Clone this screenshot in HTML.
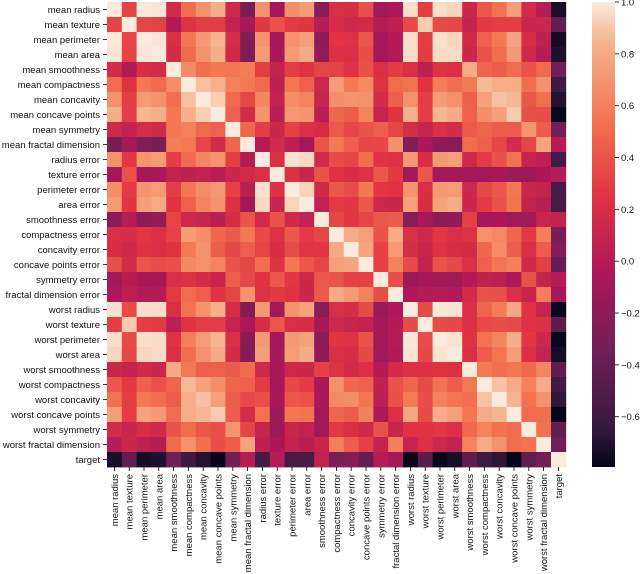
<!DOCTYPE html>
<html><head><meta charset="utf-8"><style>
html,body{margin:0;padding:0;background:#fff;width:640px;height:574px;overflow:hidden}
svg{display:block;font-family:"Liberation Sans","DejaVu Sans",sans-serif}
</style></head><body>
<svg id="chart" width="640" height="574" viewBox="0 0 640 574" xmlns="http://www.w3.org/2000/svg">
<defs><linearGradient id="cbgrad" x1="0" y1="1" x2="0" y2="0">
<stop offset="0" stop-color="#03051a"/><stop offset="0.083" stop-color="#35193e"/><stop offset="0.25" stop-color="#701f57"/><stop offset="0.417" stop-color="#ad1759"/><stop offset="0.583" stop-color="#e13342"/><stop offset="0.75" stop-color="#f37651"/><stop offset="0.917" stop-color="#f6b48f"/><stop offset="1" stop-color="#faebdd"/>
</linearGradient></defs>
<g id="cells"></g>
<g id="ylabels"></g>
<g id="xlabels"></g>
<rect x="592" y="2" width="23" height="465" fill="url(#cbgrad)"/>
<g id="cbticks"></g>
</svg>
<script>
const labels=["mean radius","mean texture","mean perimeter","mean area","mean smoothness","mean compactness","mean concavity","mean concave points","mean symmetry","mean fractal dimension","radius error","texture error","perimeter error","area error","smoothness error","compactness error","concavity error","concave points error","symmetry error","fractal dimension error","worst radius","worst texture","worst perimeter","worst area","worst smoothness","worst compactness","worst concavity","worst concave points","worst symmetry","worst fractal dimension","target"];
const lower=[[],
[.324],
[.998,.330],
[.987,.321,.987],
[.171,-.023,.207,.177],
[.506,.237,.557,.499,.659],
[.677,.302,.716,.686,.522,.883],
[.823,.293,.851,.823,.554,.831,.921],
[.148,.071,.183,.151,.558,.603,.501,.462],
[-.312,-.076,-.261,-.283,.585,.565,.337,.167,.480],
[.679,.276,.692,.733,.301,.497,.632,.698,.303,.000],
[-.097,.386,-.087,-.066,.068,.046,.076,.021,.128,.164,.213],
[.674,.282,.693,.727,.296,.549,.660,.711,.314,.040,.973,.223],
[.736,.260,.745,.800,.247,.456,.617,.690,.224,-.090,.952,.112,.938],
[-.223,.006,-.203,-.167,.332,.135,.099,.028,.187,.402,.165,.397,.151,.075],
[.206,.192,.251,.213,.319,.739,.670,.490,.422,.560,.356,.232,.416,.285,.337],
[.194,.143,.228,.208,.248,.571,.691,.439,.343,.447,.332,.195,.362,.271,.269,.801],
[.376,.164,.407,.372,.381,.642,.683,.616,.393,.341,.513,.230,.556,.416,.328,.744,.772],
[-.104,.009,-.082,-.072,.201,.230,.178,.095,.449,.345,.241,.412,.266,.134,.414,.395,.309,.313],
[-.043,.054,-.006,-.020,.284,.507,.449,.258,.332,.688,.228,.280,.244,.127,.427,.803,.727,.611,.369],
[.970,.353,.969,.963,.213,.535,.688,.830,.186,-.254,.715,-.112,.697,.757,-.231,.205,.187,.358,-.128,-.037],
[.297,.912,.303,.287,.036,.248,.300,.293,.091,-.051,.195,.409,.200,.196,-.075,.143,.100,.087,-.077,-.003,.360],
[.965,.358,.970,.959,.239,.590,.730,.856,.219,-.205,.720,-.102,.721,.761,-.217,.261,.227,.395,-.104,-.001,.994,.365],
[.941,.344,.942,.959,.207,.510,.676,.810,.177,-.232,.752,-.083,.731,.811,-.182,.199,.189,.342,-.110,-.023,.984,.346,.978],
[.120,.078,.151,.124,.805,.566,.449,.453,.427,.505,.142,-.074,.130,.125,.314,.227,.168,.215,-.013,.171,.217,.225,.237,.209],
[.413,.278,.456,.391,.472,.866,.755,.667,.473,.459,.287,-.092,.342,.283,-.056,.679,.485,.453,.060,.390,.476,.361,.529,.438,.568],
[.527,.301,.564,.513,.435,.816,.884,.752,.434,.346,.380,-.069,.419,.385,-.058,.639,.663,.549,.037,.380,.574,.368,.618,.543,.518,.892],
[.744,.295,.771,.722,.503,.816,.861,.910,.430,.175,.531,-.120,.555,.538,-.102,.483,.440,.602,-.030,.215,.787,.360,.816,.747,.548,.801,.855],
[.164,.105,.189,.144,.394,.510,.409,.376,.700,.334,.095,-.128,.110,.074,-.107,.278,.198,.143,.389,.111,.244,.233,.269,.209,.494,.614,.533,.503],
[.007,.119,.051,.004,.499,.687,.515,.369,.438,.767,.050,-.046,.085,.018,.101,.591,.439,.311,.078,.591,.093,.219,.139,.080,.618,.810,.687,.511,.538],
[-.730,-.415,-.743,-.709,-.359,-.597,-.696,-.777,-.330,.013,-.567,.008,-.556,-.548,.067,-.293,-.254,-.408,.007,-.078,-.776,-.457,-.783,-.734,-.421,-.591,-.660,-.794,-.416,-.324]];
const cbTicks=[1.0,0.8,0.6,0.4,0.2,0.0,-0.2,-0.4,-0.6];
const vmin=-0.794, vmax=1.0;
const X0=107,Y0=2,CW=14.8,CH=15;
const stops=[[0,[3,5,26]],[0.083,[53,25,62]],[0.25,[112,31,87]],[0.417,[173,23,89]],[0.583,[225,51,66]],[0.75,[243,118,81]],[0.917,[246,180,143]],[1,[250,235,221]]];
function color(v){let t=(v-vmin)/(vmax-vmin);t=Math.max(0,Math.min(1,t));
for(let i=1;i<stops.length;i++){if(t<=stops[i][0]){const a=stops[i-1],b=stops[i];const f=(t-a[0])/(b[0]-a[0]);
return 'rgb('+a[1].map((c,k)=>Math.round(c+(b[1][k]-c)*f)).join(',')+')';}}return 'rgb(250,235,221)';}
function xPos(j){return X0+j*CW;}
function yPos(i){return Y0+i*CH;}
function cbY(v){return 2+(vmax-v)/(vmax-vmin)*465;}
const NS='http://www.w3.org/2000/svg';
const n=labels.length;
function val(i,j){if(i===j)return 1;return i>j?lower[i][j]:lower[j][i];}
const cells=document.getElementById('cells');
for(let i=0;i<n;i++)for(let j=0;j<n;j++){
const r=document.createElementNS(NS,'rect');
r.setAttribute('x',xPos(j).toFixed(2));r.setAttribute('y',yPos(i));
r.setAttribute('width',(CW+0.4).toFixed(2));r.setAttribute('height',CH+0.4);
r.setAttribute('fill',color(val(i,j)));


cells.appendChild(r);}
const yl=document.getElementById('ylabels'),xl=document.getElementById('xlabels');
labels.forEach((lab,i)=>{
const cy=yPos(i)+CH/2;
const t=document.createElementNS(NS,'line');t.setAttribute('x1',X0-4);t.setAttribute('x2',X0);t.setAttribute('y1',cy);t.setAttribute('y2',cy);t.setAttribute('stroke','#000');t.setAttribute('stroke-width','0.8');


yl.appendChild(t);
const tx=document.createElementNS(NS,'text');tx.setAttribute('x',X0-7);tx.setAttribute('y',cy+3.5);tx.setAttribute('text-anchor','end');tx.setAttribute('font-size','9.5');tx.setAttribute('fill','#111');tx.textContent=lab;


yl.appendChild(tx);
const cx=xPos(i)+CW/2,by=Y0+n*CH;
const t2=document.createElementNS(NS,'line');t2.setAttribute('x1',cx);t2.setAttribute('x2',cx);t2.setAttribute('y1',by);t2.setAttribute('y2',by+4);t2.setAttribute('stroke','#000');t2.setAttribute('stroke-width','0.8');


xl.appendChild(t2);
const tx2=document.createElementNS(NS,'text');tx2.setAttribute('transform','translate('+(cx+3.5)+','+(by+7)+') rotate(-90)');tx2.setAttribute('text-anchor','end');tx2.setAttribute('font-size','9.5');tx2.setAttribute('fill','#111');tx2.textContent=lab;


xl.appendChild(tx2);
});
const cb=document.getElementById('cbticks');
cbTicks.forEach(v=>{const y=cbY(v);
const l=document.createElementNS(NS,'line');l.setAttribute('x1',615);l.setAttribute('x2',619);l.setAttribute('y1',y);l.setAttribute('y2',y);l.setAttribute('stroke','#000');l.setAttribute('stroke-width','0.8');


cb.appendChild(l);
const t=document.createElementNS(NS,'text');t.setAttribute('x',621);t.setAttribute('y',y+3.5);t.setAttribute('font-size','9.5');t.setAttribute('fill','#111');t.textContent=(v<0?'\u2212':'')+Math.abs(v).toFixed(1);


cb.appendChild(t);});
</script>
</body></html>
